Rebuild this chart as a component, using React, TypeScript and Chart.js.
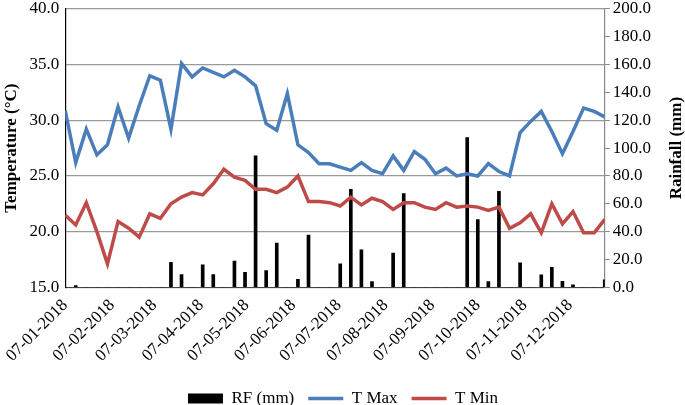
import { useEffect, useRef } from "react";
import { Chart, registerables } from "chart.js";

Chart.register(...registerables);

// Weekly observations (first week = 07-01-2018)
const tMax = [
  30.9, 26.2, 29.2, 26.9, 27.8, 31.2, 28.4, 31.3, 34.0, 33.6,
  29.2, 35.1, 33.9, 34.7, 34.3, 33.9, 34.5, 33.9, 33.1, 29.7,
  29.1, 32.4, 27.8, 27.1, 26.1, 26.1, 25.8, 25.5, 26.2, 25.5,
  25.2, 26.8, 25.5, 27.2, 26.5, 25.2, 25.7, 25.0, 25.2, 25.0,
  26.1, 25.4, 25.0, 28.9, 29.9, 30.8, 29.0, 27.0, 29.0, 31.1,
  30.8, 30.3,
];
const tMin = [
  21.5, 20.6, 22.6, 20.0, 17.1, 20.9, 20.3, 19.5, 21.6, 21.2,
  22.5, 23.1, 23.5, 23.3, 24.3, 25.6, 24.9, 24.6, 23.8, 23.8,
  23.5, 24.0, 25.0, 22.7, 22.7, 22.6, 22.3, 23.1, 22.4, 23.0,
  22.7, 22.0, 22.6, 22.6, 22.2, 22.0, 22.6, 22.2, 22.3, 22.2,
  21.9, 22.2, 20.3, 20.8, 21.6, 19.9, 22.5, 20.7, 21.8, 19.9,
  19.9, 21.1,
];
const rainfall = [
  0, 1.2, 0, 0, 0, 0, 0, 0, 0, 0,
  18.0, 9.1, 0, 16.1, 9.1, 0, 18.8, 10.8, 94.5, 12.0,
  31.7, 0, 5.8, 37.5, 0, 0, 16.8, 70.4, 26.9, 4.1,
  0, 24.5, 67.3, 0, 0, 0, 0, 0, 107.5, 48.6,
  4.1, 69.0, 0, 17.5, 0, 8.9, 14.4, 4.3, 1.7, 0,
  0, 5.3,
];
// Day offsets from 07-01-2018 for the month tick labels
const monthTickDays = [0, 31, 59, 90, 120, 151, 181, 212, 243, 273, 304, 334];
const monthTickLabels = [
  "07-01-2018", "07-02-2018", "07-03-2018", "07-04-2018", "07-05-2018", "07-06-2018",
  "07-07-2018", "07-08-2018", "07-09-2018", "07-10-2018", "07-11-2018", "07-12-2018",
];
const leftTitle = "Temperature (°C)";
const rightTitle = "Rainfall (mm)";

const FONT = "'Liberation Serif', 'Times New Roman', serif";

const rightTitlePlugin = {
  id: "rightTitle",
  afterDraw(chart: any) {
    const { ctx, chartArea } = chart;
    const s = chart.scales.y1;
    ctx.save();
    ctx.translate(s.right - 8, (chartArea.top + chartArea.bottom) / 2);
    ctx.rotate(-Math.PI / 2);
    ctx.font = `bold 17px ${FONT}`;
    ctx.fillStyle = "#000";
    ctx.textAlign = "center";
    ctx.textBaseline = "middle";
    ctx.fillText(rightTitle, 0, 0);
    ctx.restore();
  },
};

export default function App() {
  const ref = useRef<HTMLCanvasElement>(null);

  useEffect(() => {
    const days = tMax.map((_, i) => i * 7);
    const chart = new Chart(ref.current!, {
      type: "line",
      data: {
        datasets: [
          {
            type: "bar",
            label: "RF (mm)",
            data: rainfall.map((v, i) => ({ x: days[i], y: v })),
            backgroundColor: "#000000",
            borderWidth: 0,
            barThickness: 3,
            yAxisID: "y1",
            order: 1,
            pointStyle: "rect",
          } as any,
          {
            type: "line",
            label: "T Max",
            data: tMax.map((v, i) => ({ x: days[i], y: v })),
            borderColor: "#4A7EBB",
            backgroundColor: "#4A7EBB",
            borderWidth: 3.5,
            pointRadius: 0,
            tension: 0,
            yAxisID: "y",
            order: 0,
            pointStyle: "line",
          },
          {
            type: "line",
            label: "T Min",
            data: tMin.map((v, i) => ({ x: days[i], y: v })),
            borderColor: "#BE4B48",
            backgroundColor: "#BE4B48",
            borderWidth: 3.5,
            pointRadius: 0,
            tension: 0,
            yAxisID: "y",
            order: 0,
            pointStyle: "line",
          },
        ],
      },
      plugins: [rightTitlePlugin],
      options: {
        responsive: false,
        animation: false,
        layout: { padding: { left: 1, right: 0, top: 0, bottom: -12 } },
        plugins: {
          tooltip: { enabled: false },
          legend: {
            position: "bottom",
            title: { display: true, text: "", font: { size: 1 }, padding: { top: 1, bottom: 0 } },
            labels: {
              usePointStyle: true,
              pointStyleWidth: 35,
              boxHeight: 10,
              padding: 14,
              color: "#000",
              font: { family: FONT, size: 17 },
              sort: (a: any, b: any) => a.datasetIndex - b.datasetIndex,
            },
          },
        },
        scales: {
          x: {
            type: "linear",
            min: 0,
            max: 357,
            offset: false,
            afterBuildTicks: (s: any) => {
              s.ticks = monthTickDays.map((v) => ({ value: v }));
            },
            ticks: {
              autoSkip: false,
              maxRotation: 45,
              minRotation: 45,
              padding: 8,
              color: "#000",
              font: { family: FONT, size: 17 },
              callback: (v: any) => {
                const k = monthTickDays.indexOf(Number(v));
                return k >= 0 ? monthTickLabels[k] : "";
              },
            },
            grid: { display: false, drawTicks: false },
            border: { display: true, color: "#444", width: 1 },
          },
          y: {
            position: "left",
            min: 15,
            max: 40,
            ticks: {
              stepSize: 5,
              padding: 6,
              color: "#000",
              font: { family: FONT, size: 17, lineHeight: 0.35 },
              callback: (v: any) => Number(v).toFixed(1),
            },
            grid: { color: "#9a9a9a", lineWidth: 1.2, drawTicks: false },
            border: { display: true, color: "#000", width: 1.2 },
            title: {
              display: true,
              text: leftTitle,
              color: "#000",
              padding: { top: 0, bottom: 2 },
              font: { family: FONT, size: 17, weight: "bold" },
            },
          },
          y1: {
            position: "right",
            min: 0,
            max: 200,
            afterFit: (s: any) => {
              s.width += 31;
            },
            ticks: {
              stepSize: 20,
              padding: 3,
              color: "#000",
              font: { family: FONT, size: 17, lineHeight: 0.7 },
              callback: (v: any) => Number(v).toFixed(1),
            },
            grid: { drawOnChartArea: false, color: "#888", tickLength: 5 },
            border: { display: true, color: "#888", width: 1.2 },
          },
        },
      },
    });
    return () => chart.destroy();
  }, []);

  return (
    <div style={{ position: "absolute", left: 0, top: 0, width: 685, height: 405, background: "#fff" }}>
      <canvas ref={ref} width={685} height={405} />
    </div>
  );
}
